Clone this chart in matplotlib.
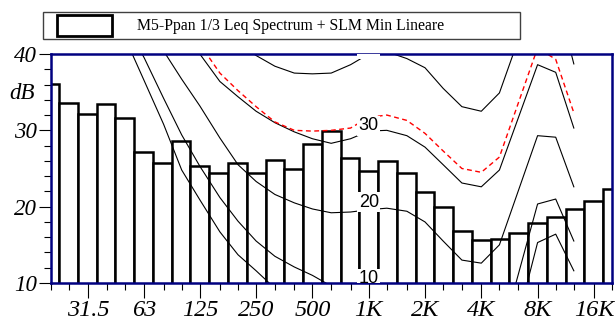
import numpy as np
import matplotlib
matplotlib.use("Agg")
import matplotlib.pyplot as plt
from matplotlib.patches import Rectangle
from matplotlib.ticker import FixedLocator, NullFormatter

plt.rcParams['font.family'] = ['Liberation Serif', 'DejaVu Serif']
plt.rcParams['font.style'] = 'italic'
plt.rcParams['font.size'] = 16

# 1/3 octave bands and measured Leq (dB)
bands = [20, 25, 31.5, 40, 50, 63, 80, 100, 125, 160, 200, 250, 315, 400, 500, 630, 800,
         1000, 1250, 1600, 2000, 2500, 3150, 4000, 5000, 6300, 8000, 10000, 12500, 16000, 20000]
leq = [36.1, 33.6, 32.1, 33.45, 31.65, 27.2, 25.7, 28.6, 25.3, 24.45, 25.76, 24.45, 26.1, 25.0,
       28.17, 29.95, 26.4, 24.67, 25.98, 24.37, 21.88, 19.92, 16.85, 15.63, 15.76, 16.6, 17.8,
       18.6, 19.7, 20.74, 22.3]

# equal loudness style curves
thr_f = [50, 63, 80, 100, 125, 160, 200, 250, 315, 400, 500, 630, 800, 1000, 1250, 1600,
         2000, 2500, 3150, 4000, 5000, 8000, 10000, 12500]
thr_db = [42, 36.5, 30.8, 24.8, 20.9, 16.7, 13.7, 11.6, 9.3, 7.5, 6, 4.5, 3.5, 3, 2.5, 1,
          -1, -3, -4.5, -5, -4.2, 15.3, 16.4, 11.6]

ph10_f = [50, 63, 80, 100, 125, 160, 200, 250, 315, 400, 500, 630, 800, 1000, 1250, 1600,
          2000, 2500, 3150, 4000, 5000, 8000, 10000, 12500]
ph10_db = [44, 39.5, 34.2, 29.4, 25.3, 21.2, 18.1, 15.5, 13.5, 12.1, 11.0, 9.6, 9.5, 10, 9.5, 7,
           4, 2, 0.5, 0, 2.1, 20.35, 21.0, 15.5]

ph20_f = [63, 80, 100, 125, 160, 200, 250, 315, 400, 500, 630, 800, 1000, 1250, 1600,
          2000, 2500, 3150, 4000, 5000, 8000, 10000, 12500]
ph20_db = [44, 40.4, 36.7, 33.2, 29.0, 25.5, 23.3, 21.6, 20.5, 19.7, 19.2, 19.3, 19.6, 19.8, 19.4,
           18.0, 15.5, 13.0, 12.6, 15.0, 29.3, 29.1, 22.6]

ph30_f = [100, 125, 160, 200, 250, 315, 400, 500, 630, 800, 1000, 1250, 1600,
          2000, 2500, 3150, 4000, 5000, 8000, 10000, 12500]
ph30_db = [43.7, 40, 36.4, 34.4, 32.5, 31.0, 29.8, 28.9, 28.3, 28.9, 29.9, 30.0, 29.3,
           27.8, 25.5, 23.1, 22.6, 24.8, 38.6, 37.6, 30.3]

ph40_f = [200, 250, 315, 400, 500, 630, 800, 1000, 1250, 1600,
          2000, 2500, 3150, 4000, 5000, 8000, 10000, 12500]
ph40_db = [41.4, 39.8, 38.4, 37.5, 37.4, 37.5, 38.6, 40, 40.3, 39.4,
           38.2, 35.5, 33.1, 32.5, 34.9, 49, 48, 38.7]

slm_f = [125, 160, 200, 250, 315, 400, 500, 630, 800, 1000, 1250, 1600,
         2000, 2500, 3150, 4000, 5000, 8000, 10000, 12500]
slm_db = [41.3, 37.5, 35.2, 33.1, 31.1, 30.0, 29.9, 30.0, 30.3, 31.7, 32.0, 31.3,
          29.6, 27.3, 25.0, 24.5, 26.5, 40.8, 39.3, 32.3]

curve_labels = [10, 20, 30, 40]
major_f = [31.5, 63, 125, 250, 500, 1000, 2000, 4000, 8000, 16000]
major_txt = ["31.5", "63", "125", "250", "500", "1K", "2K", "4K", "8K", "16K"]
legend_txt = "M5-Ppan 1/3 Leq Spectrum + SLM Min Lineare"

fig = plt.figure(figsize=(6.15, 3.22), dpi=100)
ax = fig.add_axes([51/615, 1-283/322, 561/615, 229/322])

# bars one third octave wide around the exact band centre
fc = 1000 * 2.0 ** ((np.arange(len(bands)) - 17) / 3)
lo = fc * 2 ** (-1/6)
hi = fc * 2 ** (1/6)
ax.bar(lo, leq, width=hi - lo, align='edge', color='white', edgecolor='black',
       linewidth=1.8, zorder=1)

for f, v in [(thr_f, thr_db), (ph10_f, ph10_db), (ph20_f, ph20_db),
             (ph30_f, ph30_db), (ph40_f, ph40_db)]:
    ax.plot(f, v, color='black', lw=0.8, zorder=2)
ax.plot(slm_f, slm_db, color='red', lw=1.0, dashes=(3.5, 2.5), zorder=2)

for lv in curve_labels:
    ax.text(1000, lv, str(lv), ha='center', va='baseline', fontsize=13,
            family='Liberation Sans', style='normal',
            bbox=dict(boxstyle='square,pad=0.08', fc='white', ec='none'),
            clip_on=True, zorder=4)

ax.set_xscale('log')
ax.set_xlim(20, 20000)
ax.set_ylim(10, 40)

ax.xaxis.set_major_locator(FixedLocator(major_f))
ax.set_xticklabels(major_txt)
ax.xaxis.set_minor_locator(FixedLocator([b for b in bands if b not in major_f]))
ax.xaxis.set_minor_formatter(NullFormatter())
ax.yaxis.set_major_locator(FixedLocator([10, 20, 30, 40]))
ax.yaxis.set_minor_locator(FixedLocator([v for v in range(12, 40, 2) if v % 10]))

ax.tick_params(axis='x', which='major', length=10.5, width=0.8, pad=2, labelsize=17.5)
ax.tick_params(axis='x', which='minor', length=5, width=0.8)
ax.tick_params(axis='y', which='major', length=9, width=0.8, pad=1, labelsize=16.5)
ax.tick_params(axis='y', which='minor', length=5, width=0.8)

ax.text(-0.028, 34.8, "dB", transform=ax.get_yaxis_transform(), ha='right', va='center',
        fontsize=16.5, style='italic')

for sp in ax.spines.values():
    sp.set_color('#000080')
    sp.set_linewidth(1.8)

# legend box above the plot
fig.patches.append(Rectangle((43/615, 1-39/322), 477/615, 27/322, transform=fig.transFigure,
                             fc='white', ec='#404040', lw=1))
fig.patches.append(Rectangle((57/615, 1-36/322), 55/615, 21/322, transform=fig.transFigure,
                             fc='white', ec='black', lw=2))
fig.text(137/615, 1-25.5/322, legend_txt, ha='left', va='center',
         fontsize=11.3, style='normal')

fig.savefig("out.png", dpi=100, facecolor='white')
